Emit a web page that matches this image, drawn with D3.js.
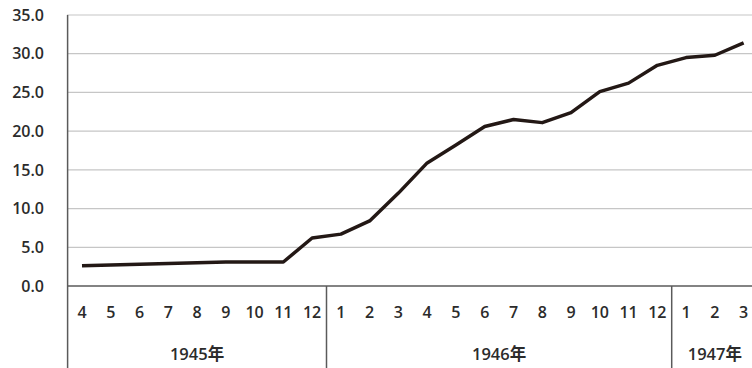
<!DOCTYPE html>
<html><head><meta charset="utf-8">
<script src="https://cdn.jsdelivr.net/npm/d3@7"></script>
<style>body{margin:0;background:#fff;overflow:hidden}svg{display:block}</style>
</head><body>
<script>
const months = ["4","5","6","7","8","9","10","11","12","1","2","3","4","5","6","7","8","9","10","11","12","1","2","3"];
const values = [2.6,2.7,2.8,2.9,3.0,3.1,3.1,3.1,6.2,6.7,8.4,12.0,15.9,18.2,20.6,21.5,21.1,22.4,25.1,26.2,28.5,29.5,29.8,31.4];
const years = [{label:"1945年", start:0, end:9},{label:"1946年", start:9, end:21},{label:"1947年", start:21, end:24}];
const yTicks = [0,5,10,15,20,25,30,35];

const W = 752, H = 368;
const svg = d3.select("body").append("svg").attr("width", W).attr("height", H);
const font = "'Open Sans','Noto Sans CJK JP',sans-serif";

const x = d3.scaleBand().domain(d3.range(months.length)).range([67.6, 758]).padding(0);
const y = d3.scaleLinear().domain([0,35]).range([286, 15]);

// gridlines
svg.append("g").selectAll("line").data(yTicks.filter(d=>d>0)).join("line")
  .attr("x1", 67).attr("x2", W).attr("y1", d=>y(d)).attr("y2", d=>y(d))
  .attr("stroke", "#c6c6c6").attr("stroke-width", 1.2);

// y labels
svg.append("g").selectAll("text").data(yTicks).join("text")
  .attr("x", 44).attr("y", d=>y(d)).attr("dy", "0.36em")
  .attr("text-anchor", "end").attr("font-family", font).attr("font-size", 16).attr("font-weight", 600)
  .attr("fill", "#2b2b2b").text(d=>d.toFixed(1));

// x axis line
svg.append("line").attr("x1", 67).attr("x2", W).attr("y1", y(0)).attr("y2", y(0))
  .attr("stroke", "#5a5a5a").attr("stroke-width", 1.5);
// y axis line
svg.append("line").attr("x1", 67.6).attr("x2", 67.6).attr("y1", y(35)).attr("y2", H)
  .attr("stroke", "#5a5a5a").attr("stroke-width", 1.5);
// year separators
svg.append("g").selectAll("line").data(years.slice(1)).join("line")
  .attr("x1", d=>x(d.start)).attr("x2", d=>x(d.start)).attr("y1", y(0)).attr("y2", H)
  .attr("stroke", "#5a5a5a").attr("stroke-width", 1.5);

// month labels
svg.append("g").selectAll("text").data(months).join("text")
  .attr("x", (d,i)=>x(i)+x.bandwidth()/2).attr("y", 312).attr("dy", "0.36em")
  .attr("text-anchor", "middle").attr("font-family", font).attr("font-size", 16).attr("font-weight", 600)
  .attr("fill", "#2b2b2b").text(d=>d);

// year labels
svg.append("g").selectAll("text").data(years).join("text")
  .attr("x", d=>(x(d.start)+x(d.end-1)+x.bandwidth())/2).attr("y", 354).attr("dy", "0.36em")
  .attr("text-anchor", "middle").attr("font-family", font).attr("font-size", 16.5).attr("font-weight", 600)
  .attr("fill", "#2b2b2b").text(d=>d.label);

// line
const line = d3.line().x((d,i)=>x(i)+x.bandwidth()/2).y(d=>y(d));
svg.append("path").datum(values).attr("d", line).attr("fill", "none")
  .attr("stroke", "#231815").attr("stroke-width", 3.5).attr("stroke-linejoin", "round").attr("stroke-linecap", "butt");
</script>
</body></html>
